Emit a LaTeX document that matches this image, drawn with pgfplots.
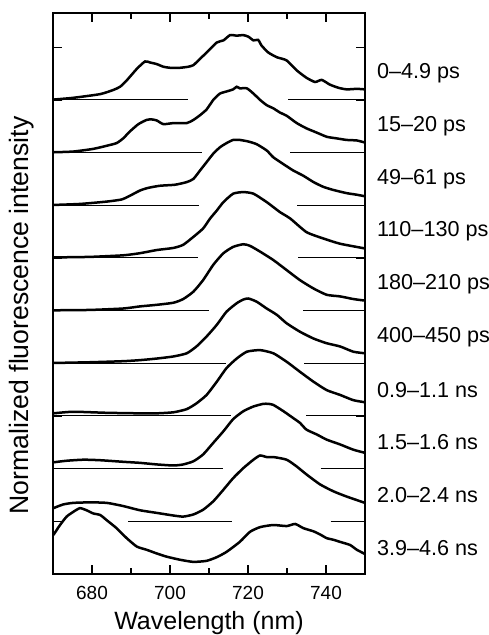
\documentclass[border=0pt]{standalone}
\usepackage{fontspec}
\setmainfont{Liberation Sans}
\usepackage{pgfplots}
\pgfplotsset{compat=1.18}
\usetikzlibrary{calc}

\begin{document}
\begin{tikzpicture}
\begin{axis}[
    name=ax,
    scale only axis,
    width=156pt, height=280.5pt,
    xmin=670, xmax=750, ymin=0, ymax=10.65,
    xtick={680,700,720,740},
    minor xtick={690,710,730},
    ytick={1,...,10},
    yticklabels={},
    tick align=inside,
    xtick pos=both, ytick pos=both,
    major tick length=4.5pt, minor tick length=3pt,
    tick style={black, line width=0.6pt},
    axis line style={line width=0.8pt},
    xticklabel pos=bottom,
    /pgf/number format/assume math mode=true,
    /pgf/number format/1000 sep={},
    xticklabel style={font=\fontsize{9.5}{11}\selectfont, yshift=-2.4pt},
    xlabel={Wavelength (nm)},
    xlabel style={font=\fontsize{12.5}{14}\selectfont, at={(axis description cs:0.5,-0.0873)}, anchor=center},
    ylabel={Normalized fluorescence intensity},
    ylabel style={font=\fontsize{13.3}{15}\selectfont, at={(axis description cs:-0.0994,0.461)}, anchor=center},
    clip=false,
    every axis plot/.append style={black, no markers},
    spec/.style={line width=1.25pt, smooth, tension=0.35},
]
% baselines
\addplot[line width=0.5pt] coordinates {(670,9) (704.6,9)};
\addplot[line width=0.5pt] coordinates {(730.3,9) (750,9)};
\addplot[line width=0.5pt] coordinates {(670,8) (708.1,8)};
\addplot[line width=0.5pt] coordinates {(730.8,8) (750,8)};
\addplot[line width=0.5pt] coordinates {(670,7) (707.4,7)};
\addplot[line width=0.5pt] coordinates {(732.6,7) (750,7)};
\addplot[line width=0.5pt] coordinates {(670,6) (707.1,6)};
\addplot[line width=0.5pt] coordinates {(732.9,6) (750,6)};
\addplot[line width=0.5pt] coordinates {(670,5) (709.9,5)};
\addplot[line width=0.5pt] coordinates {(734.2,5) (750,5)};
\addplot[line width=0.5pt] coordinates {(670,4) (714.4,4)};
\addplot[line width=0.5pt] coordinates {(734.4,4) (750,4)};
\addplot[line width=0.5pt] coordinates {(670,3) (715.6,3)};
\addplot[line width=0.5pt] coordinates {(735.0,3) (750,3)};
\addplot[line width=0.5pt] coordinates {(670,2) (713.7,2)};
\addplot[line width=0.5pt] coordinates {(738.6,2) (750,2)};
\addplot[line width=0.5pt] coordinates {(689.3,1) (715.9,1)};
\addplot[line width=0.5pt] coordinates {(741.2,1) (750,1)};

% 0-4.9 ps
\addplot[spec] table[y expr=\thisrow{I}+9] {
x I
670.1 0.006
675.2 0.04
682.1 0.11
685.5 0.19
687.2 0.25
688.9 0.37
691.5 0.59
693.6 0.73
694.9 0.71
696.6 0.68
698.3 0.63
700.0 0.61
702.6 0.61
704.7 0.63
706.0 0.66
707.7 0.78
709.4 0.90
712.0 1.09
713.7 1.13
715.4 1.23
717.1 1.22
718.8 1.23
720.1 1.20
721.4 1.13
722.6 1.14
723.5 1.03
725.2 0.90
727.4 0.81
729.9 0.75
732.5 0.56
735.0 0.42
737.2 0.34
738.9 0.38
741.0 0.29
743.2 0.23
745.3 0.20
747.9 0.21
750.0 0.20
};
% 15-20 ps
\addplot[spec] table[y expr=\thisrow{I}+8] {
x I
670.1 0.006
675.2 0.02
680.3 0.07
683.8 0.13
686.3 0.18
688.0 0.27
689.7 0.40
691.9 0.54
694.0 0.62
695.3 0.63
696.6 0.61
698.3 0.54
700.9 0.56
704.3 0.56
706.0 0.62
707.7 0.71
709.4 0.82
711.1 1.00
712.8 1.12
714.5 1.16
716.2 1.20
717.1 1.25
717.9 1.22
719.7 1.22
721.4 1.12
723.1 1.00
724.8 0.90
726.5 0.84
728.2 0.76
729.9 0.70
732.5 0.56
735.0 0.46
737.6 0.38
740.2 0.30
742.7 0.27
745.3 0.24
747.9 0.23
750.0 0.19
};
% 49-61 ps
\addplot[spec] table[y expr=\thisrow{I}+7] {
x I
670.1 0.006
676.9 0.025
683.8 0.07
687.6 0.11
689.7 0.18
692.3 0.28
694.4 0.33
697.4 0.37
701.3 0.39
704.3 0.44
706.0 0.50
707.7 0.66
709.4 0.82
711.1 0.98
712.8 1.10
714.5 1.18
716.2 1.24
717.9 1.24
720.1 1.21
722.2 1.16
724.8 1.04
726.5 0.91
729.1 0.78
731.6 0.66
734.2 0.56
736.8 0.44
739.3 0.35
741.9 0.29
745.3 0.23
747.9 0.20
750.0 0.17
};
% 110-130 ps
\addplot[spec] table[y expr=\thisrow{I}+6] {
x I
670.1 0.01
679.5 0.02
688.0 0.05
692.3 0.09
696.6 0.15
700.9 0.19
703.4 0.25
706.0 0.40
708.5 0.56
710.3 0.75
712.0 0.90
713.7 1.06
716.2 1.22
718.8 1.25
721.4 1.22
724.8 1.06
728.2 0.87
730.8 0.75
735.0 0.49
739.3 0.37
743.6 0.27
750.0 0.18
};
% 180-210 ps
\addplot[spec] table[y expr=\thisrow{I}+5] {
x I
670.1 0.006
679.5 0.013
688.0 0.04
692.3 0.08
696.6 0.11
700.9 0.15
703.4 0.22
706.0 0.36
708.5 0.58
711.1 0.87
713.7 1.09
716.2 1.21
718.8 1.26
720.5 1.23
723.1 1.12
726.5 0.96
729.9 0.77
733.3 0.58
736.8 0.42
740.2 0.30
743.6 0.27
747.0 0.22
750.0 0.19
};
% 400-450 ps
\addplot[spec] table[y expr=\thisrow{I}+4] {
x I
670.1 0.006
679.5 0.02
688.0 0.04
692.3 0.06
696.6 0.09
700.9 0.13
704.3 0.19
706.8 0.32
709.4 0.51
712.0 0.73
714.5 0.98
717.1 1.14
718.8 1.21
720.1 1.23
722.2 1.17
724.8 1.04
727.4 0.92
729.9 0.76
733.3 0.60
736.8 0.47
740.2 0.38
743.6 0.32
747.0 0.22
750.0 0.19
};
% 0.9-1.1 ns
\addplot[spec] table[y expr=\thisrow{I}+3] {
x I
670.1 0.05
675.2 0.08
683.8 0.06
692.3 0.05
696.6 0.05
700.9 0.07
704.3 0.13
706.8 0.24
709.4 0.40
712.0 0.65
714.5 0.91
717.1 1.09
719.7 1.22
723.1 1.25
726.5 1.19
729.9 1.03
733.3 0.84
736.8 0.65
740.2 0.49
743.6 0.40
747.0 0.30
750.0 0.26
};
% 1.5-1.6 ns
\addplot[spec] table[y expr=\thisrow{I}+2] {
x I
670.1 0.12
673.5 0.15
677.8 0.17
682.1 0.16
688.0 0.13
692.3 0.11
696.6 0.08
700.9 0.06
703.4 0.08
706.0 0.14
708.5 0.27
711.1 0.49
713.7 0.71
716.2 0.94
718.8 1.09
721.4 1.18
723.9 1.23
725.2 1.23
726.5 1.21
729.1 1.09
731.6 0.96
733.3 0.87
735.0 0.74
737.6 0.65
740.2 0.55
743.6 0.46
747.0 0.36
750.0 0.30
};
% 2.0-2.4 ns
\addplot[spec] table[y expr=\thisrow{I}+1] {
x I
670.1 0.25
672.6 0.32
675.2 0.35
679.5 0.36
683.8 0.35
688.0 0.29
692.3 0.21
696.6 0.16
700.9 0.11
703.4 0.09
706.0 0.13
708.5 0.22
711.1 0.38
713.7 0.60
716.2 0.82
718.8 1.01
721.4 1.17
723.1 1.25
724.8 1.22
726.5 1.22
729.9 1.17
732.5 1.04
735.0 0.89
738.5 0.70
741.9 0.57
745.3 0.47
750.0 0.35
};
% 3.9-4.6 ns
\addplot[spec] table[y expr=\thisrow{I}+0] {
x I
670.1 0.74
671.8 0.93
673.5 1.09
675.2 1.18
676.9 1.25
678.6 1.21
680.3 1.15
682.1 1.12
683.8 1.02
686.3 0.87
688.9 0.68
691.5 0.52
694.0 0.46
696.6 0.39
699.1 0.33
702.6 0.27
706.0 0.23
709.4 0.25
712.0 0.32
714.5 0.42
717.9 0.61
720.5 0.80
723.1 0.89
726.5 0.93
729.9 0.91
732.1 0.95
734.2 0.87
736.8 0.81
738.5 0.75
740.2 0.68
741.9 0.65
743.6 0.61
746.2 0.55
747.9 0.46
750.0 0.38
};

% labels
\begin{scope}[every node/.style={anchor=west, xshift=2.5pt, font=\fontsize{10.8}{12}\selectfont}]
\node at (axis cs:750,9.5) {0–4.9 ps};
\node at (axis cs:750,8.5) {15–20 ps};
\node at (axis cs:750,7.5) {49–61 ps};
\node at (axis cs:750,6.5) {110–130 ps};
\node at (axis cs:750,5.5) {180–210 ps};
\node at (axis cs:750,4.5) {400–450 ps};
\node at (axis cs:750,3.5) {0.9–1.1 ns};
\node at (axis cs:750,2.5) {1.5–1.6 ns};
\node at (axis cs:750,1.5) {2.0–2.4 ns};
\node at (axis cs:750,0.5) {3.9–4.6 ns};
\end{scope}
\end{axis}
\pgfresetboundingbox
\path[use as bounding box] ($(ax.south west)+(-26.5pt,-30.5pt)$) rectangle ($(ax.north east)+(62pt,6.5pt)$);
\end{tikzpicture}
\end{document}
